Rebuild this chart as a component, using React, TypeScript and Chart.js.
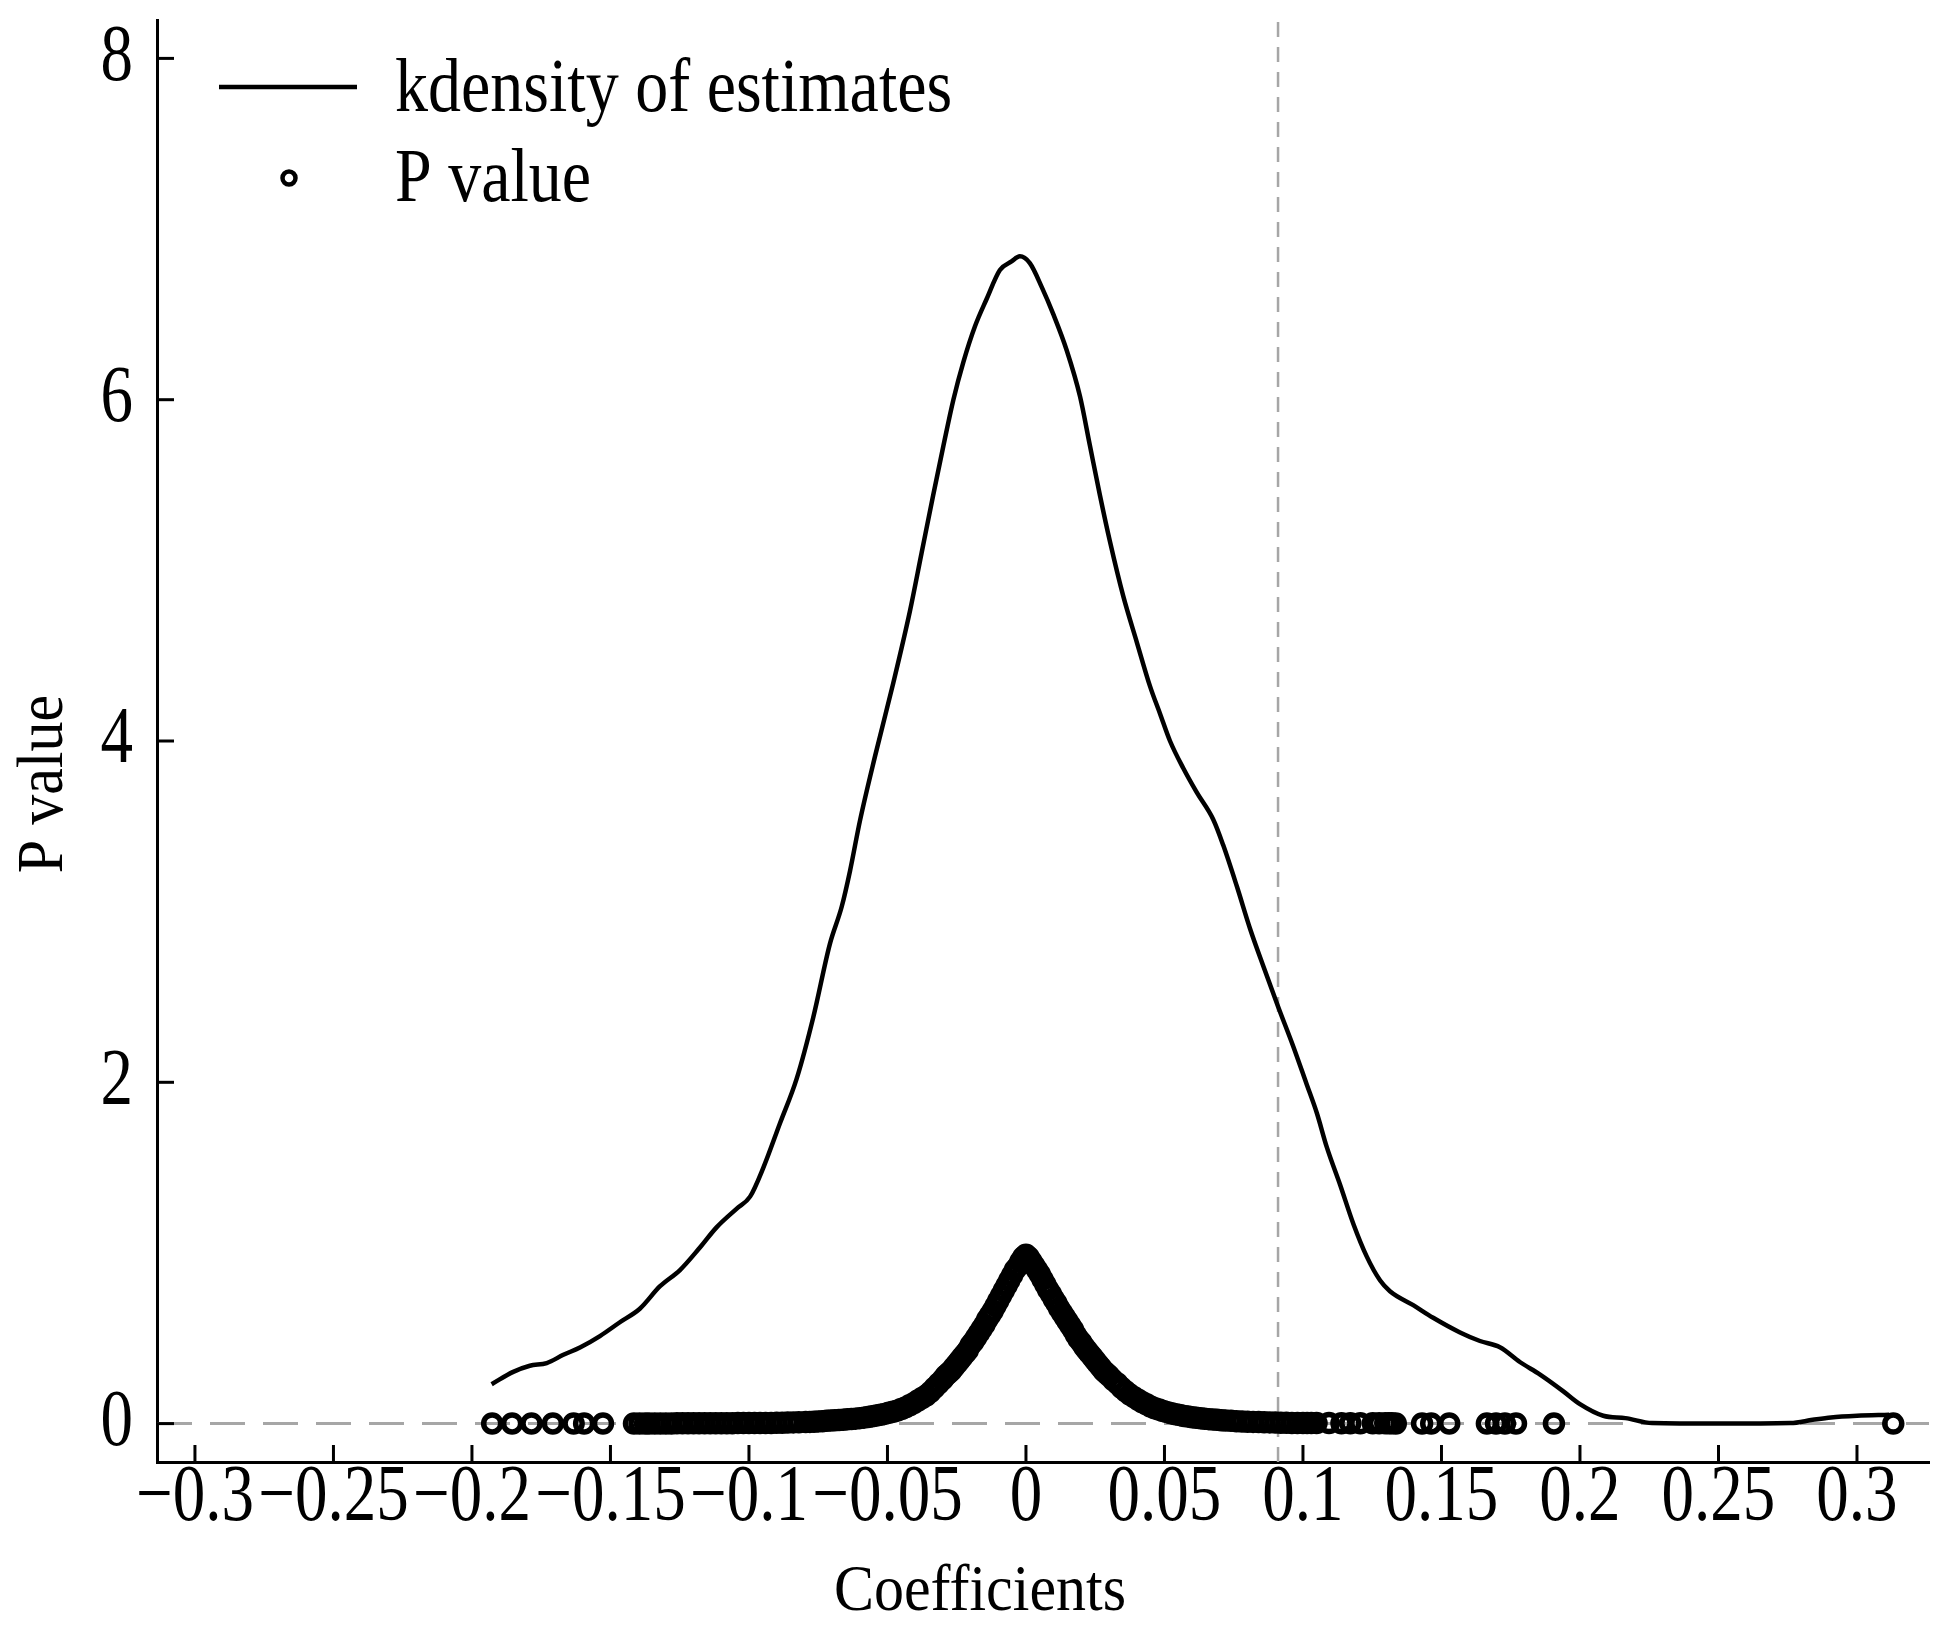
import React, { useEffect, useRef } from "react";
import { Chart, registerables } from "chart.js";

Chart.register(...registerables);

// kernel density of the estimates
const densityX = [
  -0.1929, -0.1851, -0.1791, -0.173, -0.167, -0.161, -0.1538, -0.1466, -0.1394, -0.1321,
  -0.1249, -0.1177, -0.1117, -0.1044, -0.0996, -0.0948, -0.0888, -0.0828, -0.0768, -0.0708,
  -0.0665, -0.0635, -0.0599, -0.0545, -0.0479, -0.0419, -0.0377, -0.0335, -0.0298, -0.0262,
  -0.0226, -0.0184, -0.0142, -0.0094, -0.0052, -0.0022, 0.0014, 0.0057, 0.0099, 0.0147,
  0.0195, 0.0231, 0.0267, 0.0303, 0.0351, 0.04, 0.0448, 0.0484, 0.052, 0.0568,
  0.0616, 0.0676, 0.0712, 0.0761, 0.0809, 0.0857, 0.0911, 0.0965, 0.1013, 0.105,
  0.1086, 0.1134, 0.1182, 0.123, 0.1278, 0.1314, 0.1398, 0.147, 0.1567, 0.1639,
  0.1711, 0.1783, 0.1856, 0.194, 0.2, 0.2084, 0.2164, 0.226, 0.25, 0.276,
  0.284, 0.2906, 0.3, 0.3116,
];
const densityY = [
  0.231, 0.303, 0.339, 0.355, 0.403, 0.446, 0.513, 0.594, 0.673, 0.805,
  0.9, 1.032, 1.15, 1.26, 1.33, 1.5, 1.76, 2.02, 2.38, 2.81,
  3.03, 3.24, 3.535, 3.91, 4.34, 4.76, 5.1, 5.44, 5.73, 6.0,
  6.22, 6.43, 6.59, 6.76, 6.81, 6.84, 6.8, 6.66, 6.5, 6.29,
  6.02, 5.73, 5.44, 5.17, 4.85, 4.58, 4.32, 4.16, 4.0, 3.84,
  3.7, 3.54, 3.39, 3.15, 2.9, 2.68, 2.44, 2.21, 1.99, 1.82,
  1.62, 1.4, 1.17, 0.98, 0.84, 0.776, 0.694, 0.62, 0.534, 0.484,
  0.447, 0.361, 0.287, 0.189, 0.114, 0.046, 0.032, 0.003, 0.0, 0.003,
  0.022, 0.036, 0.046, 0.052,
];

// p values of the individual estimates
const pValueX = [
  -0.1927, -0.1855, -0.1785, -0.1708, -0.1633, -0.1595, -0.1527,
  -0.1415, -0.1395, -0.1375, -0.136, -0.134, -0.132, -0.13, -0.128, -0.126, -0.124,
  -0.122, -0.12, -0.118, -0.116, -0.114, -0.112, -0.11, -0.108, -0.106, -0.104,
  -0.102, -0.1, -0.098, -0.096, -0.094, -0.092, -0.09, -0.088, -0.086, -0.084, -0.082,
  -0.0795, -0.078, -0.0765, -0.075, -0.0735, -0.072, -0.0705, -0.069, -0.0675, -0.066,
  -0.0645, -0.063, -0.0615, -0.06, -0.0585, -0.057, -0.0555, -0.054, -0.0525, -0.051,
  -0.0495, -0.048, -0.0465, -0.045, -0.0435, -0.042, -0.0405, -0.039, -0.0375, -0.036,
  -0.0345, -0.033, -0.0315,
  -0.03, -0.029, -0.028, -0.027, -0.026, -0.025, -0.024, -0.023, -0.022, -0.021,
  -0.02, -0.019, -0.018, -0.017, -0.016, -0.015, -0.014, -0.013, -0.012, -0.011,
  -0.01, -0.009, -0.008, -0.007, -0.006, -0.005, -0.004, -0.003, -0.002, -0.001, 0,
  0.001, 0.002, 0.003, 0.004, 0.005, 0.006, 0.007, 0.008, 0.009, 0.01,
  0.011, 0.012, 0.013, 0.014, 0.015, 0.016, 0.017, 0.018, 0.019, 0.02,
  0.021, 0.022, 0.023, 0.024, 0.025, 0.026, 0.027, 0.028, 0.029, 0.03,
  0.0315, 0.033, 0.0345, 0.036, 0.0375, 0.039, 0.0405, 0.042, 0.0435, 0.045,
  0.0465, 0.048, 0.0495, 0.051, 0.0525, 0.054, 0.0555, 0.057, 0.0585, 0.06,
  0.0615, 0.063, 0.0645, 0.066, 0.0675, 0.069, 0.0705,
  0.072, 0.074, 0.076, 0.078, 0.08, 0.082, 0.084, 0.086, 0.088, 0.09,
  0.092, 0.094, 0.096, 0.098, 0.1, 0.1015, 0.103,
  0.1049, 0.1094, 0.1139, 0.1171, 0.1207, 0.1252, 0.1275, 0.1297, 0.131, 0.132, 0.1335,
  0.143, 0.1463, 0.1528, 0.1664, 0.1697, 0.1729, 0.1769, 0.1906, 0.3131,
];
const pValueY = [
  0.001, 0.001, 0.001, 0.001, 0.001, 0.001, 0.001,
  0.001, 0.001, 0.001, 0.001, 0.001, 0.001, 0.001, 0.001, 0.002, 0.002,
  0.002, 0.002, 0.002, 0.002, 0.002, 0.002, 0.002, 0.002, 0.002, 0.003,
  0.003, 0.003, 0.003, 0.004, 0.004, 0.004, 0.005, 0.005, 0.006, 0.007, 0.008,
  0.009, 0.01, 0.011, 0.013, 0.014, 0.016, 0.018, 0.02, 0.021, 0.023,
  0.025, 0.027, 0.029, 0.032, 0.035, 0.039, 0.043, 0.047, 0.052, 0.057,
  0.063, 0.069, 0.076, 0.085, 0.095, 0.107, 0.12, 0.135, 0.15, 0.165,
  0.185, 0.21, 0.235,
  0.26, 0.28, 0.295, 0.31, 0.33, 0.35, 0.37, 0.39, 0.41, 0.43,
  0.46, 0.48, 0.505, 0.53, 0.555, 0.58, 0.61, 0.635, 0.66, 0.69,
  0.72, 0.75, 0.78, 0.81, 0.84, 0.87, 0.9, 0.92, 0.95, 0.975, 0.99,
  0.975, 0.95, 0.925, 0.9, 0.875, 0.845, 0.815, 0.785, 0.76, 0.73,
  0.705, 0.675, 0.65, 0.625, 0.6, 0.575, 0.55, 0.52, 0.495, 0.475,
  0.45, 0.43, 0.41, 0.39, 0.37, 0.35, 0.33, 0.31, 0.295, 0.28,
  0.255, 0.235, 0.21, 0.19, 0.17, 0.155, 0.14, 0.125, 0.113, 0.1,
  0.09, 0.082, 0.074, 0.067, 0.061, 0.055, 0.05, 0.045, 0.041, 0.037,
  0.034, 0.031, 0.028, 0.026, 0.024, 0.022, 0.02,
  0.018, 0.016, 0.014, 0.012, 0.011, 0.01, 0.009, 0.008, 0.007, 0.006,
  0.005, 0.005, 0.004, 0.004, 0.004, 0.004, 0.003,
  0.003, 0.003, 0.002, 0.002, 0.002, 0.002, 0.002, 0.002, 0.002, 0.002, 0.001,
  0.001, 0.001, 0.001, 0.001, 0.001, 0.001, 0.001, 0.001, 0.0,
];

const xTickValues = [-0.3, -0.25, -0.2, -0.15, -0.1, -0.05, 0, 0.05, 0.1, 0.15, 0.2, 0.25, 0.3];
const xTickLabels = ["−0.3", "−0.25", "−0.2", "−0.15", "−0.1", "−0.05", "0", "0.05", "0.1", "0.15", "0.2", "0.25", "0.3"];
const yTickValues = [0, 2, 4, 6, 8];
const yTickLabels = ["0", "2", "4", "6", "8"];

const xRange = [-0.3137, 0.326];
const yRange = [-0.225, 8.225];
const cutoffX = 0.091;

const serif = "'Liberation Serif', 'Times New Roman', serif";
const grey = "#a6a6a6";

// the stata font is a tall, narrow Times: draw text squeezed a bit vertically taller
function tallText(ctx: any, text: string, x: number, y: number, size: number, sy: number, align: string, baseline: string, rot = 0) {
  ctx.save();
  ctx.translate(x, y);
  if (rot) ctx.rotate(rot);
  ctx.scale(1, sy);
  ctx.font = `${size}px ${serif}`;
  ctx.textAlign = align;
  ctx.textBaseline = baseline;
  ctx.fillText(text, 0, 0);
  ctx.restore();
}

// stata-like decorations: inward ticks, tick labels, axis titles and the legend
const stataDecor = {
  id: "stataDecor",
  afterDraw(chart: any) {
    const { ctx, chartArea } = chart;
    const x = chart.scales.x;
    const y = chart.scales.y;
    ctx.save();
    ctx.strokeStyle = "#000";
    ctx.fillStyle = "#000";
    ctx.lineWidth = 3;
    x.ticks.forEach((t: any, i: number) => {
      const px = x.getPixelForValue(t.value);
      ctx.beginPath();
      ctx.moveTo(px, chartArea.bottom);
      ctx.lineTo(px, chartArea.bottom - 17);
      ctx.stroke();
      tallText(ctx, xTickLabels[i], px, chartArea.bottom + 37, 65, 1.25, "center", "middle");
    });
    y.ticks.forEach((t: any, i: number) => {
      const py = y.getPixelForValue(t.value);
      ctx.beginPath();
      ctx.moveTo(chartArea.left, py);
      ctx.lineTo(chartArea.left + 17, py);
      ctx.stroke();
      tallText(ctx, yTickLabels[i], chartArea.left - 24, py, 65, 1.25, "right", "middle");
    });

    tallText(ctx, "Coefficients", 980, 1610, 60, 1.08, "center", "alphabetic");
    tallText(ctx, "P value", 62, 784, 60, 1.08, "center", "alphabetic", -Math.PI / 2);

    // legend
    const ds = chart.data.datasets;
    ctx.lineWidth = 4.5;
    ctx.beginPath();
    ctx.moveTo(219, 87);
    ctx.lineTo(357, 87);
    ctx.stroke();
    tallText(ctx, ds[0].label, 395, 111, 66, 1.15, "left", "alphabetic");
    ctx.lineWidth = 4.5;
    ctx.beginPath();
    ctx.arc(289, 178, 6.5, 0, Math.PI * 2);
    ctx.stroke();
    tallText(ctx, ds[1].label, 395, 201, 66, 1.15, "left", "alphabetic");
    ctx.restore();
  },
};

export default function App() {
  const canvasRef = useRef<HTMLCanvasElement>(null);

  useEffect(() => {
    if (!canvasRef.current) return;

    const chart = new Chart(canvasRef.current, {
      type: "scatter",
      data: {
        datasets: [
          {
            type: "line",
            label: "kdensity of estimates",
            data: densityX.map((v, i) => ({ x: v, y: densityY[i] })),
            borderColor: "#000",
            borderWidth: 4.5,
            pointRadius: 0,
            cubicInterpolationMode: "monotone",
            fill: false,
            order: 2,
          },
          {
            type: "scatter",
            label: "P value",
            data: pValueX.map((v, i) => ({ x: v, y: pValueY[i] })),
            borderColor: "#000",
            backgroundColor: "rgba(0,0,0,0)",
            borderWidth: 5.5,
            pointRadius: 8.5,
            pointStyle: "circle",
            order: 1,
          },
          {
            type: "line",
            label: "",
            data: [
              { x: xRange[0], y: 0 },
              { x: xRange[1], y: 0 },
            ],
            borderColor: grey,
            borderWidth: 3,
            borderDash: [35, 18],
            pointRadius: 0,
            order: 3,
          },
          {
            type: "line",
            label: "",
            data: [
              { x: cutoffX, y: yRange[0] },
              { x: cutoffX, y: yRange[1] },
            ],
            borderColor: grey,
            borderWidth: 2.5,
            borderDash: [15, 10],
            pointRadius: 0,
            order: 3,
          },
        ],
      },
      options: {
        animation: false,
        responsive: true,
        maintainAspectRatio: false,
        events: [],
        layout: { padding: { top: 20, right: 26, left: 0, bottom: 0 } },
        plugins: {
          legend: { display: false },
          tooltip: { enabled: false },
        },
        scales: {
          x: {
            type: "linear",
            min: xRange[0],
            max: xRange[1],
            grid: { display: false, drawTicks: false },
            border: { display: true, color: "#000", width: 3 },
            afterBuildTicks: (scale: any) => {
              scale.ticks = xTickValues.map((v) => ({ value: v }));
            },
            afterFit: (scale: any) => {
              scale.height = 176;
              scale.paddingLeft = 0;
              scale.paddingRight = 0;
            },
            ticks: { display: false, autoSkip: false, maxRotation: 0 },
          },
          y: {
            type: "linear",
            min: yRange[0],
            max: yRange[1],
            grid: { display: false, drawTicks: false },
            border: { display: true, color: "#000", width: 3 },
            afterBuildTicks: (scale: any) => {
              scale.ticks = yTickValues.map((v) => ({ value: v }));
            },
            afterFit: (scale: any) => {
              scale.width = 157;
              scale.paddingTop = 0;
              scale.paddingBottom = 0;
            },
            ticks: { display: false },
          },
        },
      },
      plugins: [stataDecor],
    });

    return () => {
      chart.destroy();
    };
  }, []);

  return (
    <div
      style={{
        position: "fixed",
        left: 0,
        top: 0,
        width: "1955px",
        height: "1638px",
        background: "#fff",
      }}
    >
      <canvas ref={canvasRef}></canvas>
    </div>
  );
}
